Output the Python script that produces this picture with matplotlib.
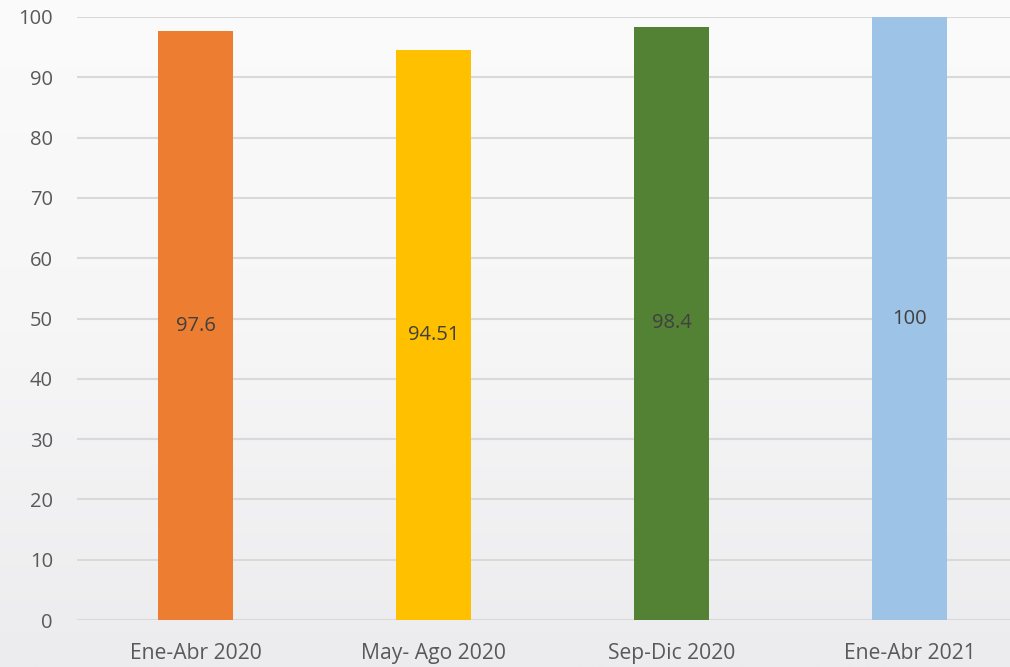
import numpy as np
import matplotlib.pyplot as plt

# data
periodos = ['Ene-Abr 2020', 'May- Ago 2020', 'Sep-Dic 2020', 'Ene-Abr 2021']
valores = [97.6, 94.51, 98.4, 100]
etiquetas = ['97.6', '94.51', '98.4', '100']
colores = ['#ED7D31', '#FFC000', '#548235', '#9DC3E6']

plt.rcParams['font.family'] = ['Open Sans', 'DejaVu Sans']

W, H = 1010, 667
fig = plt.figure(figsize=(W / 100, H / 100), dpi=100)

# soft grey background gradient
bg = fig.add_axes([0, 0, 1, 1], zorder=-10)
grad = np.linspace(0, 1, 256).reshape(-1, 1)
bg.imshow(grad, cmap=plt.matplotlib.colors.LinearSegmentedColormap.from_list(
    'bg', ['#FBFBFB', '#F6F6F7', '#ECECEE']), aspect='auto', extent=[0, 1, 0, 1])
bg.axis('off')

# axes placed in pixel units (right edge runs off the picture like the original)
left, right, top, bottom = 76.5, 1028.5, 17, 620
ax = fig.add_axes([left / W, 1 - bottom / H, (right - left) / W, (bottom - top) / H])
ax.patch.set_alpha(0)

x = np.arange(len(periodos))
bars = ax.bar(x, valores, width=0.315, color=colores, zorder=3)

for b, lab in zip(bars, etiquetas):
    ax.text(b.get_x() + b.get_width() / 2, b.get_height() / 2, lab,
            ha='center', va='center', fontsize=14.5, color='#404040', zorder=4)

ax.set_xlim(-0.5, 3.5)
ax.set_ylim(0, 100)
ax.set_yticks(range(0, 101, 10))
ax.set_xticks(x)
ax.set_xticklabels(periodos)
ax.tick_params(axis='both', length=0, labelsize=14.5, labelcolor='#595959')
ax.tick_params(axis='x', labelsize=15.2, pad=16.5)
ax.tick_params(axis='y', pad=17)

ax.grid(axis='y', color='#D9D9D9', linewidth=1.5, zorder=0)
for s in ax.spines.values():
    s.set_visible(False)

fig.savefig('out.png', dpi=100)
